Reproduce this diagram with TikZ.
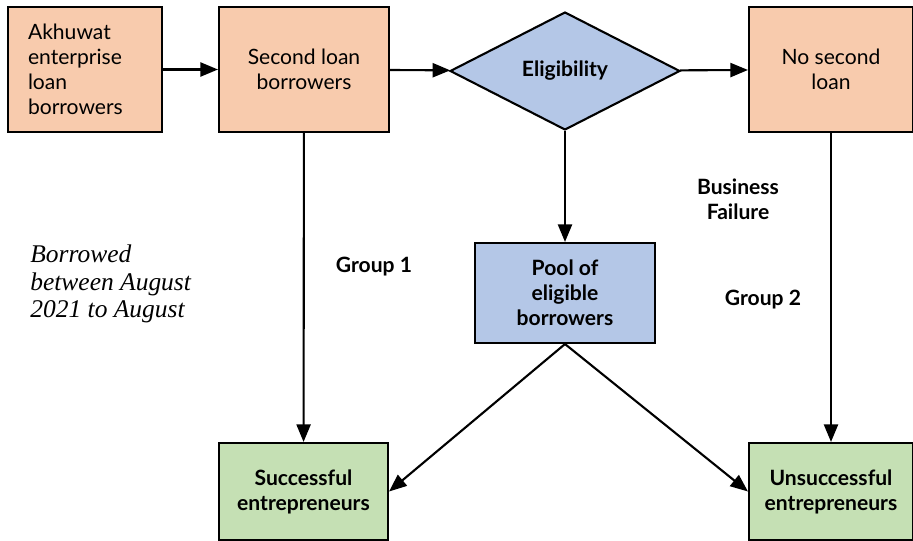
\documentclass[tikz,border=0pt]{standalone}
\usepackage{fontspec}
\setmainfont{Lato}
\newfontfamily\notefont{Liberation Serif}
\usetikzlibrary{shapes.geometric,arrows.meta}

\definecolor{peach}{HTML}{F8CBAD}
\definecolor{paleblue}{HTML}{B4C7E7}
\definecolor{palegreen}{HTML}{C5E0B4}

\begin{document}
\begin{tikzpicture}[x=0.02cm,y=-0.02cm,
    every node/.style={font=\fontsize{12}{14.2}\selectfont},
    box/.style={draw,line width=1.2pt,inner sep=0pt,align=center},
    stepbox/.style={box,fill=peach,minimum height=2.5cm},
    endbox/.style={box,fill=palegreen,minimum height=1.94cm,font=\bfseries\fontsize{12}{14.2}\selectfont},
    lbl/.style={font=\bfseries\fontsize{12}{14.2}\selectfont,align=center},
    arr/.style={line width=1.2pt,-{Triangle[length=10pt,width=8pt]}}]
    \useasboundingbox (0,0) rectangle (913,541);

    \node[stepbox,minimum width=3.08cm,text width=2.28cm,align=left] (akh) at (85,69.5)
        {Akhuwat\\enterprise\\loan\\borrowers};
    \node[stepbox,minimum width=3.4cm] (second) at (304,69.5) {Second loan\\borrowers};
    \node[diamond,draw,line width=1.2pt,fill=paleblue,inner sep=0pt,
        minimum width=4.6cm,minimum height=2.36cm,font=\bfseries\fontsize{12}{14.2}\selectfont]
        (elig) at (565,71) {Eligibility};
    \node[stepbox,minimum width=3.28cm] (nosec) at (831,69.5) {No second\\loan};

    \node[box,fill=paleblue,minimum width=3.6cm,minimum height=2cm,
        font=\bfseries\fontsize{12}{14.2}\selectfont] (pool) at (565,293) {Pool of\\eligible\\borrowers};

    \node[endbox,minimum width=3.38cm] (succ) at (303.5,491.5) {Successful\\entrepreneurs};
    \node[endbox,minimum width=3.28cm] (unsucc) at (831,491.5) {Unsuccessful\\entrepreneurs};

    \node[lbl] (fail) at (738,199) {Business\\Failure};
    \node[lbl] (grp1) at (374,267) {Group 1};
    \node[lbl] (grp2) at (763,300) {Group 2};
    \node[anchor=west,align=left,inner sep=0pt,
        font=\notefont\itshape\fontsize{14.5}{15.6}\selectfont] (note) at (30,284)
        {Borrowed\\between August\\2021 to August};

    \draw[arr] (akh) -- (second);
    \draw[arr] (second) -- (elig);
    \draw[arr] (elig) -- (nosec);
    \draw[arr] (elig) -- (pool);
    \draw[arr] (second) -- (succ);
    \draw[arr] (nosec) -- (unsucc);
    \draw[arr] (pool.south) -- (succ.east);
    \draw[arr] (pool.south) -- (unsucc.west);
\end{tikzpicture}
\end{document}
